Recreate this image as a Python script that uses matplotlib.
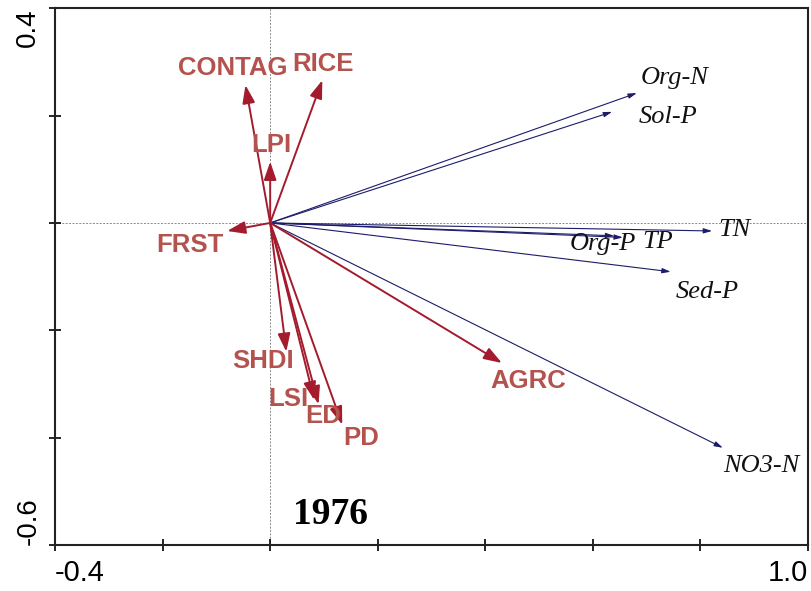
import matplotlib
matplotlib.use("Agg")
import matplotlib.pyplot as plt

# Environmental (landscape) variables - red arrows
env_names = ["CONTAG", "RICE", "LPI", "FRST", "SHDI", "LSI", "ED", "PD", "AGRC"]
env_x = [-0.046, 0.097, 0.000, -0.080, 0.030, 0.082, 0.090, 0.134, 0.431]
env_y = [0.257, 0.266, 0.114, -0.015, -0.240, -0.330, -0.338, -0.376, -0.261]

# Response (water quality) variables - blue arrows
resp_names = ["Org-N", "Sol-P", "TN", "Org-P", "TP", "Sed-P", "NO3-N"]
resp_x = [0.682, 0.636, 0.822, 0.640, 0.656, 0.745, 0.842]
resp_y = [0.242, 0.207, -0.015, -0.024, -0.027, -0.091, -0.419]

xticks = [-0.4, -0.2, 0.0, 0.2, 0.4, 0.6, 0.8, 1.0]
yticks = [-0.6, -0.4, -0.2, 0.0, 0.2, 0.4]
year_label = "1976"

# label offsets in points (style/layout)
env_off = {"CONTAG": (-9.5, 12), "RICE": (0.7, 11.5), "LPI": (0.7, 12), "FRST": (-27, -10),
           "SHDI": (-17, -6.5), "LSI": (-18.5, 0.7), "ED": (3, -8.6), "PD": (14, -9.4),
           "AGRC": (19, -13)}
resp_off = {"Org-N": (27.4, 10.8), "Sol-P": (40.3, -3.6), "TN": (16, 0.7), "Org-P": (-8, -5.8),
            "TP": (25, -3.6), "Sed-P": (26.6, -14.4), "NO3-N": (28, -13)}

fig = plt.figure(figsize=(8.11, 5.91), dpi=100)
ax = fig.add_axes([0.068, 0.078, 0.928, 0.908])
ax.set_xlim(-0.4, 1.0)
ax.set_ylim(-0.6, 0.4)

ax.axhline(0, color="#8a8a8a", lw=0.7, ls=(0, (2, 1.5)), zorder=1)
ax.axvline(0, color="#8a8a8a", lw=0.7, ls=(0, (2, 1.5)), zorder=1)

red_arrow = "#a31b2c"
red_text = "#b4524e"
blue = "#1c1c6b"

for n, x, y in zip(resp_names, resp_x, resp_y):
    ax.annotate("", xy=(x, y), xytext=(0, 0),
                arrowprops=dict(arrowstyle="-|>,head_length=0.5,head_width=0.15",
                                color=blue, lw=0.8, shrinkA=0, shrinkB=0), zorder=2)
    dx, dy = resp_off[n]
    ax.annotate(n, xy=(x, y), xytext=(dx, dy), textcoords="offset points",
                ha="center", va="center", fontsize=19, style="italic",
                family="Liberation Serif", color="#111111", zorder=4)

for n, x, y in zip(env_names, env_x, env_y):
    ax.annotate("", xy=(x, y), xytext=(0, 0),
                arrowprops=dict(arrowstyle="-|>,head_length=1.1,head_width=0.38",
                                color=red_arrow, lw=1.4, shrinkA=0, shrinkB=0), zorder=3)
    dx, dy = env_off[n]
    ax.annotate(n, xy=(x, y), xytext=(dx, dy), textcoords="offset points",
                ha="center", va="center", fontsize=18.5, fontweight="bold",
                family="Liberation Sans", color=red_text, zorder=4)

ax.text(0.113, -0.544, year_label, ha="center", va="center", fontsize=27,
        fontweight="bold", family="Liberation Serif", color="black")

ax.set_xticks(xticks)
ax.set_yticks(yticks)
xl = ax.set_xticklabels(["-0.4"] + [""] * 6 + ["1.0"], family="Liberation Sans", fontsize=21)
yl = ax.set_yticklabels(["-0.6"] + [""] * 4 + ["0.4"], family="Liberation Sans", fontsize=20,
                        rotation=90)
xl[0].set_ha("left")
xl[-1].set_ha("right")
yl[0].set_va("bottom")
yl[-1].set_va("top")
ax.tick_params(direction="inout", length=8, width=1.2)
ax.tick_params(axis="x", pad=6)
ax.tick_params(axis="y", pad=6)
for s in ax.spines.values():
    s.set_linewidth(1.5)
    s.set_color("#222222")

fig.savefig("out.png", dpi=100)
